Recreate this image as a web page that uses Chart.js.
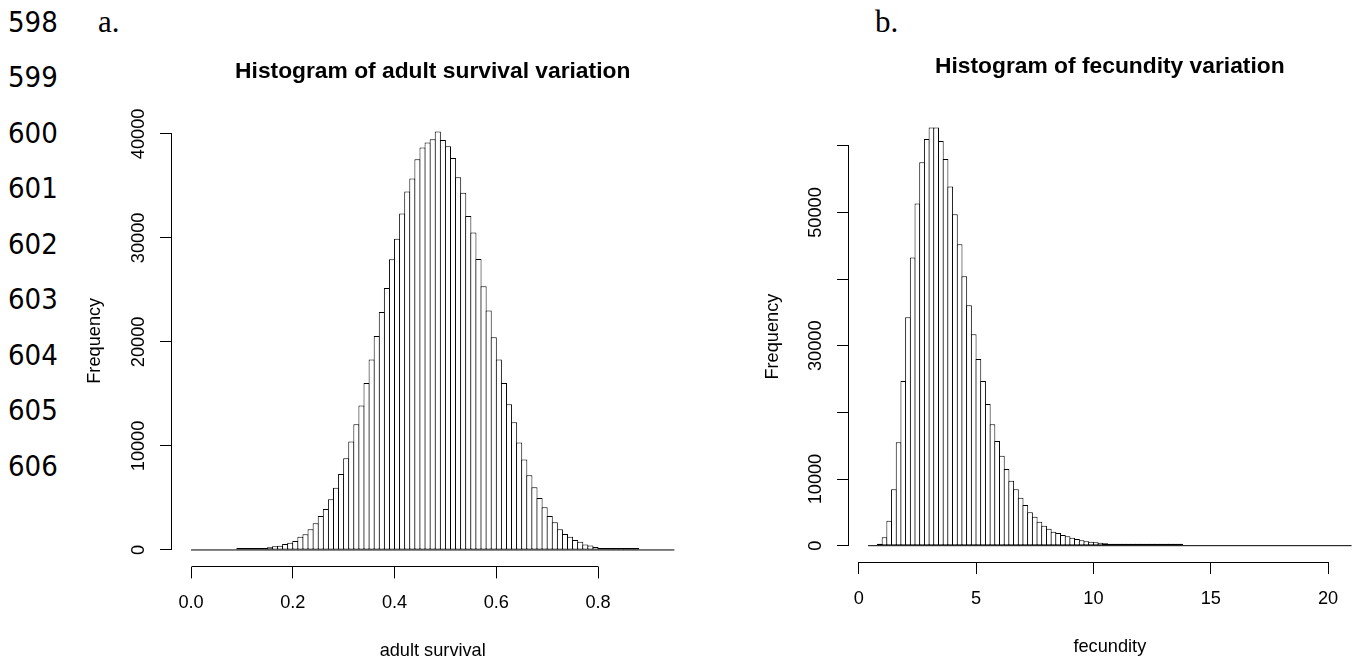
<!DOCTYPE html>
<html>
<head>
<meta charset="utf-8">
<title>Histograms of adult survival and fecundity variation</title>
<script src="https://cdn.jsdelivr.net/npm/chart.js@4.4.1/dist/chart.umd.min.js"></script>
<style>
  html, body { margin: 0; padding: 0; background: #fff; }
  body { width: 1357px; height: 658px; overflow: hidden; position: relative; }
  .lineno {
    position: absolute; left: 8px;
    font-family: "Liberation Sans Narrow", "DejaVu Sans Condensed", "Noto Sans", sans-serif;
    font-size: 29px; line-height: 1; color: #000;
  }
  .panel {
    position: absolute;
    font-family: "Liberation Serif", "Times New Roman", serif;
    font-size: 31px; line-height: 1; color: #000;
  }
  canvas { position: absolute; top: 0; }
</style>
</head>
<body>
<div class="panel" style="left:98px; top:6px;">a.</div>
<div class="panel" style="left:875px; top:6px;">b.</div>
<canvas id="survival" width="660" height="680" style="left:60px;"></canvas>
<canvas id="fecundity" width="640" height="680" style="left:740px;"></canvas>

<script>
// manuscript line numbers down the left margin
const lineNumbers = [598, 599, 600, 601, 602, 603, 604, 605, 606];

// adult survival: bins of 0.01 starting at 0
const survivalStart = 0;
const survivalBinWidth = 0.01;
const survivalCounts = [
  0, 0, 0, 0, 0, 0, 0, 0, 0,                       // 0.00 - 0.08
  5, 10, 20, 40, 80,                               // 0.09 - 0.13
  200, 260, 350, 400, 580, 690, 850, 1280, 1500, 1990, // 0.14 - 0.23
  2560, 3270, 3940, 4870, 5990, 7300, 8810, 10420, 12080, 13880, // 0.24 - 0.33
  16060, 18300, 20580, 22880, 25190, 27950, 29930, 32340, 34450, 35700, // 0.34 - 0.43
  37560, 38680, 39170, 39490, 40220, 39420, 38810, 37690, 35830, 34330, // 0.44 - 0.53
  32110, 30510, 27980, 25350, 23010, 20450, 18300, 16060, 14010, 12280, // 0.54 - 0.63
  10320, 8690, 7180, 6030, 5000, 4100, 3270, 2660, 1990, 1540,           // 0.64 - 0.73
  1280, 960, 800, 525, 427, 295, 197, 110, 80, 55,                       // 0.74 - 0.83
  40, 25, 15, 8,                                   // 0.84 - 0.87
  0, 0, 0, 0, 0, 0, 0                              // 0.88 - 0.94
];
const survivalXTicks = [0, 0.2, 0.4, 0.6, 0.8];
const survivalYTicks = [0, 10000, 20000, 30000, 40000];
const survivalYLabelled = [0, 10000, 20000, 30000, 40000];

// fecundity: bins of 0.2 starting at 0.4
const fecundityStart = 0.4;
const fecundityBinWidth = 0.2;
const fecundityCounts = [
  0, 0, 150, 1250, 3750, 8460, 15510, 24720, 34280, 43240,          // 0.4 - 2.2
  51340, 57550, 61050, 62750, 62750, 60750, 58050, 53890, 49740, 45240, // 2.4 - 4.2
  40430, 36080, 31730, 28020, 24720, 21270, 18220, 15710, 13510, 11510, // 4.4 - 6.2
  9760, 8460, 7210, 6100, 5000, 4350, 3600, 3000, 2550, 2100,           // 6.4 - 8.2
  1900, 1600, 1400, 1200, 1000, 800, 650, 600, 500, 450,                // 8.4 - 10.2
  350, 270, 230, 200, 180, 150, 120, 100, 80, 65,                       // 10.4 - 12.2
  50, 40, 30, 25, 20, 15, 10,                                           // 12.4 - 13.6
  0, 0, 0, 0, 0, 0, 0, 0, 0, 0, 0, 0, 0, 0, 0, 0, 0, 0,                 // 13.8 - 17.2
  0, 0, 0, 0, 0, 0, 0, 0, 0, 0, 0, 0, 0, 0, 0, 0, 0, 0                  // 17.4 - 20.8
];
const fecundityXTicks = [0, 5, 10, 15, 20];
const fecundityYTicks = [0, 10000, 20000, 30000, 40000, 50000, 60000];
const fecundityYLabelled = [0, 10000, 30000, 50000];

lineNumbers.forEach((n, i) => {
  const d = document.createElement('div');
  d.className = 'lineno';
  d.style.top = (7.5 + 55.5 * i) + 'px';
  d.textContent = n;
  document.body.appendChild(d);
});

Chart.defaults.font.family = '"Liberation Sans", Arial, sans-serif';
Chart.defaults.color = '#000';

// base-graphics style axes: the axis line only spans first to last tick
const rAxes = {
  id: 'rAxes',
  afterDraw(chart) {
    const { ctx, chartArea } = chart;
    const xs = chart.scales.x, ys = chart.scales.y;
    const crisp = v => Math.floor(v) + 0.5;
    ctx.save();
    ctx.strokeStyle = '#000';
    ctx.lineWidth = 1;
    ctx.beginPath();
    const yb = crisp(chartArea.bottom);
    ctx.moveTo(crisp(xs.getPixelForValue(xs.ticks[0].value)), yb);
    ctx.lineTo(crisp(xs.getPixelForValue(xs.ticks[xs.ticks.length - 1].value)), yb);
    const xl = crisp(chartArea.left);
    ctx.moveTo(xl, crisp(ys.getPixelForValue(ys.ticks[0].value)));
    ctx.lineTo(xl, crisp(ys.getPixelForValue(ys.ticks[ys.ticks.length - 1].value)));
    ctx.stroke();
    ctx.restore();
  }
};

function histogram(id, o) {
  const end = o.start + o.counts.length * o.width;
  const xPad = 0.04 * (end - o.start);
  const yMax = Math.max(...o.counts);
  const bars = [];
  o.counts.forEach((c, i) => {
    if (c > 0) bars.push({ x: o.start + (i + 0.5) * o.width, y: c });
  });
  const axisFont = { size: 18.2 };

  return new Chart(document.getElementById(id), {
    type: 'bar',
    data: {
      datasets: [
        {
          // empty bins collapse onto this line
          type: 'line',
          data: [{ x: o.start, y: 0 }, { x: end, y: 0 }],
          borderColor: '#000',
          borderWidth: 1,
          pointRadius: 0,
          order: 0
        },
        {
          data: bars,
          backgroundColor: '#fff',
          borderColor: '#000',
          borderWidth: 1,
          borderSkipped: false,
          inflateAmount: 0,
          minBarLength: 2,
          categoryPercentage: 1,
          barPercentage: o.barPct,
          order: 1
        }
      ]
    },
    options: {
      responsive: false,
      animation: false,
      events: [],
      layout: { padding: { left: 0, right: o.padRight, top: 0, bottom: 0 } },
      plugins: {
        legend: { display: false },
        tooltip: { enabled: false },
        title: {
          display: true,
          text: o.title,
          fullSize: false,
          color: '#000',
          font: { size: 22.8, weight: 'bold' },
          padding: { top: o.titleTop, bottom: o.titleBottom }
        }
      },
      scales: {
        x: {
          type: 'linear',
          min: o.start - xPad,
          max: end + xPad,
          offset: false,
          afterBuildTicks: s => { s.ticks = o.xTicks.map(v => ({ value: v })); },
          afterFit: s => { s.height = o.xHeight; },
          grid: { offset: false, drawOnChartArea: false, drawTicks: true, tickLength: 11.7, color: '#000', lineWidth: 1 },
          border: { display: false },
          ticks: { autoSkip: false, maxRotation: 0, padding: 14, font: axisFont, color: '#000', callback: o.xFormat },
          title: { display: true, text: o.xTitle, color: '#000', font: axisFont, padding: { top: 0, bottom: o.xTitleBottom } }
        },
        y: {
          type: 'linear',
          min: -0.04 * yMax,
          max: 1.04 * yMax,
          afterBuildTicks: s => { s.ticks = o.yTicks.map(v => ({ value: v })); },
          afterFit: s => { s.width = o.yWidth; },
          grid: { drawOnChartArea: false, drawTicks: true, tickLength: 11.7, color: '#000', lineWidth: 1 },
          border: { display: false },
          ticks: {
            autoSkip: false, minRotation: 90, maxRotation: 90, crossAlign: 'center', padding: -4.5,
            font: axisFont, color: '#000',
            callback: v => (o.yLabelled.includes(v) ? String(v) : '')
          },
          title: { display: true, text: 'Frequency', color: '#000', font: axisFont, padding: { top: o.yTitleLeft, bottom: 0 } }
        }
      }
    },
    plugins: [rAxes]
  });
}

histogram('survival', {
  title: 'Histogram of adult survival variation',
  xTitle: 'adult survival',
  start: survivalStart,
  width: survivalBinWidth,
  counts: survivalCounts,
  xTicks: survivalXTicks,
  yTicks: survivalYTicks,
  yLabelled: survivalYLabelled,
  xFormat: v => v.toFixed(1),
  barPct: 1.197,
  padRight: 26.3,
  titleTop: 58.1,
  titleBottom: 29.4,
  xHeight: 113.3,
  xTitleBottom: 17.9,
  yWidth: 111.7,
  yTitleLeft: 23.6
});

histogram('fecundity', {
  title: 'Histogram of fecundity variation',
  xTitle: 'fecundity',
  start: fecundityStart,
  width: fecundityBinWidth,
  counts: fecundityCounts,
  xTicks: fecundityXTicks,
  yTicks: fecundityYTicks,
  yLabelled: fecundityYLabelled,
  xFormat: v => String(v),
  barPct: 1.213,
  padRight: 9.1,
  titleTop: 53.3,
  titleBottom: 30.2,
  xHeight: 117.6,
  xTitleBottom: 22.2,
  yWidth: 108.75,
  yTitleLeft: 21.7
});
</script>
</body>
</html>
